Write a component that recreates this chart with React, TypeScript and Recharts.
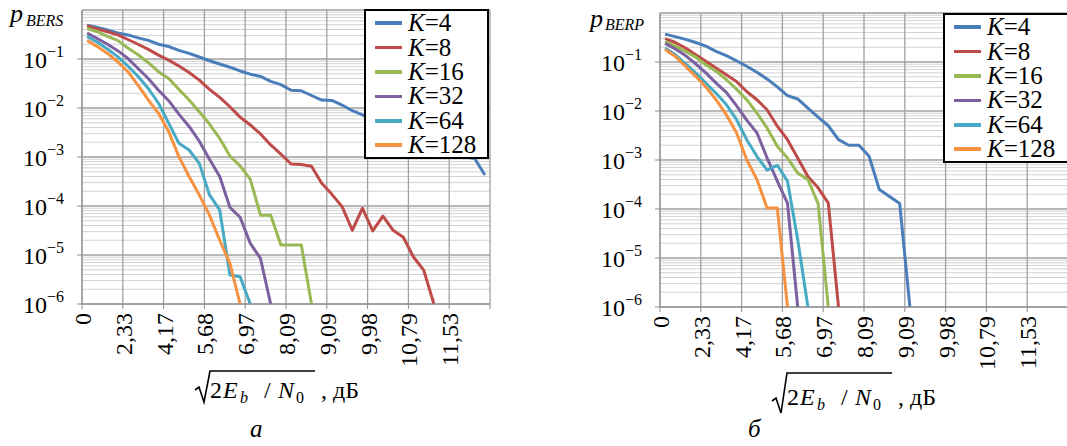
import React from 'react';
import { LineChart, Line, XAxis, YAxis, CartesianGrid, Legend } from 'recharts';

const FONT = "'Liberation Serif', Tinos, 'Times New Roman', Times, 'DejaVu Serif', serif";
const AXIS = '#8c8c8c';

// category labels, one per 4 points
const xTickLabels = ['0', '2,33', '4,17', '5,68', '6,97', '8,09', '9,09', '9,98', '10,79', '11,53'];
const kValues = [4, 8, 16, 32, 64, 128];
const colors = ['#4a7ebb', '#be4b48', '#98b954', '#7d60a0', '#46aac5', '#f69240'];

// panel a: p_BERS
const bersK4 = [4.9e-1, 4.4e-1, 3.9e-1, 3.4e-1, 3.1e-1, 2.7e-1, 2.4e-1, 2.0e-1, 1.8e-1, 1.5e-1, 1.3e-1, 1.1e-1, 9.2e-2, 7.9e-2, 6.8e-2, 5.7e-2, 4.9e-2, 4.4e-2, 3.5e-2, 3.0e-2, 2.3e-2, 2.25e-2, 1.8e-2, 1.45e-2, 1.43e-2, 1.15e-2, 8.8e-3, 7.2e-3, 6.0e-3, 4.7e-3, 3.9e-3, 3.0e-3, 2.6e-3, 2.1e-3, 1.7e-3, 1.45e-3, 1.17e-3, 1.0e-3, 9.3e-4, 4.3e-4];
const bersK8 = [4.7e-1, 4.1e-1, 3.6e-1, 3.1e-1, 2.5e-1, 2.0e-1, 1.57e-1, 1.2e-1, 9.5e-2, 7.2e-2, 5.3e-2, 3.7e-2, 2.4e-2, 1.65e-2, 1.06e-2, 6.5e-3, 4.5e-3, 2.95e-3, 1.76e-3, 1.15e-3, 7.2e-4, 7.0e-4, 6.5e-4, 2.9e-4, 1.73e-4, 9.7e-5, 3.2e-5, 9.0e-5, 3.1e-5, 6.2e-5, 3.2e-5, 2.3e-5, 9.1e-6, 4.9e-6, 1e-6];
const bersK16 = [4.2e-1, 3.6e-1, 2.9e-1, 2.4e-1, 1.68e-1, 1.22e-1, 8.4e-2, 5.5e-2, 4.0e-2, 2.4e-2, 1.46e-2, 8.4e-3, 4.7e-3, 2.4e-3, 1.05e-3, 6.6e-4, 3.5e-4, 6.5e-5, 6.5e-5, 1.6e-5, 1.6e-5, 1.6e-5, 1e-6];
const bersK32 = [3.4e-1, 2.6e-1, 2.0e-1, 1.48e-1, 1.03e-1, 6.4e-2, 4.0e-2, 2.3e-2, 1.41e-2, 7.5e-3, 4.2e-3, 2.1e-3, 9.0e-4, 4.0e-4, 9.4e-5, 5.9e-5, 1.73e-5, 8.5e-6, 1e-6];
const bersK64 = [2.9e-1, 2.2e-1, 1.6e-1, 1.12e-1, 7.2e-2, 4.4e-2, 2.5e-2, 1.25e-2, 4.9e-3, 1.9e-3, 1.39e-3, 7.4e-4, 1.68e-4, 8.3e-5, 3.9e-6, 3.6e-6, 1e-6];
const bersK128 = [2.4e-1, 1.79e-1, 1.3e-1, 8.8e-2, 5.5e-2, 2.9e-2, 1.46e-2, 7.8e-3, 3.3e-3, 1.02e-3, 4.0e-4, 1.68e-4, 6.5e-5, 2.0e-5, 6.8e-6, 1e-6];

// panel б: p_BERP
const berpK4 = [3.7e-1, 3.3e-1, 2.9e-1, 2.5e-1, 2.1e-1, 1.65e-1, 1.35e-1, 1.06e-1, 8.2e-2, 6.2e-2, 4.5e-2, 3.1e-2, 2.06e-2, 1.76e-2, 1.15e-2, 7.5e-3, 5.0e-3, 2.6e-3, 2.0e-3, 2.0e-3, 1.19e-3, 2.5e-4, 1.8e-4, 1.29e-4, 1e-6];
const berpK8 = [3.0e-1, 2.5e-1, 1.93e-1, 1.41e-1, 1.03e-1, 7.5e-2, 5.5e-2, 4.0e-2, 2.5e-2, 1.7e-2, 1.06e-2, 4.9e-3, 2.6e-3, 1.1e-3, 4.6e-4, 2.7e-4, 1.32e-4, 1e-6];
const berpK16 = [2.6e-1, 2.1e-1, 1.65e-1, 1.26e-1, 8.8e-2, 6.5e-2, 4.4e-2, 2.8e-2, 1.7e-2, 9.1e-3, 4.5e-3, 1.9e-3, 1.1e-3, 5.4e-4, 4.0e-4, 1.29e-4, 1e-6];
const berpK32 = [2.4e-1, 1.84e-1, 1.35e-1, 9.2e-2, 6.0e-2, 3.7e-2, 2.4e-2, 1.29e-2, 6.5e-3, 3.6e-3, 1.1e-3, 3.7e-4, 1.32e-4, 1e-6];
const berpK64 = [1.93e-1, 1.41e-1, 9.2e-2, 6.0e-2, 3.7e-2, 2.3e-2, 1.35e-2, 6.7e-3, 2.6e-3, 1.19e-3, 6.2e-4, 7.8e-4, 3.7e-4, 2.4e-5, 1e-6];
const berpK128 = [1.79e-1, 1.3e-1, 8.2e-2, 5.1e-2, 3.1e-2, 1.7e-2, 8.4e-3, 3.6e-3, 1.02e-3, 4.0e-4, 1.05e-4, 1.05e-4, 1e-6];

const POINTS = 40;

const buildTable = (series: number[][]) =>
  Array.from({ length: POINTS }, (_, i) => {
    const row: Record<string, number | null> = { i };
    series.forEach((s, k) => {
      row[`k${kValues[k]}`] = i < s.length ? s[i] : null;
    });
    return row;
  });

const bersData = buildTable([bersK4, bersK8, bersK16, bersK32, bersK64, bersK128]);
const berpData = buildTable([berpK4, berpK8, berpK16, berpK32, berpK64, berpK128]);

// gridlines sit on category boundaries, every 4 points
const xTicks = [...xTickLabels.map((_, k) => 4 * k - 0.5), POINTS - 0.5];
const yTicks = [1e-6, 1e-5, 1e-4, 1e-3, 1e-2, 1e-1];
const majorGrid = [...yTicks, 1];
const minorGrid: number[] = [];
yTicks.forEach((d) => {
  for (let m = 2; m <= 9; m++) minorGrid.push(m * d);
});

const XTick = ({ x, y, payload }: any) => {
  const label = xTickLabels[Math.round((payload.value + 0.5) / 4)];
  if (!label) return null;
  const bx = x + 9;
  const by = y + 2;
  return (
    <text x={bx} y={by} transform={`rotate(-90 ${bx} ${by})`} textAnchor="end" style={{ fontFamily: FONT }} fontSize={24} fill="#000">
      {label}
    </text>
  );
};

const YTick = ({ x, y, payload }: any) => {
  const exp = Math.round(Math.log10(payload.value));
  return (
    <text x={x - 11} y={y + 9} textAnchor="end" style={{ fontFamily: FONT }} fontSize={24} fill="#000">
      10
      <tspan dy={-11} fontSize={16}>
        {'\u2212' + String(-exp)}
      </tspan>
    </text>
  );
};

const makeLegend = (minWidth: number) => (props: any) => {
  const items = [...(props.payload || [])].sort(
    (a: any, b: any) => kValues.indexOf(Number(String(a.value).slice(2))) - kValues.indexOf(Number(String(b.value).slice(2)))
  );
  return (
    <div
      style={{
        display: 'inline-block',
        boxSizing: 'border-box',
        minWidth,
        border: '2px solid #000',
        background: '#fff',
        padding: '0 6px 0 9px',
        fontFamily: FONT,
        fontSize: 25,
        lineHeight: '24px',
        whiteSpace: 'nowrap',
      }}
    >
      {items.map((entry: any) => (
        <div key={entry.value} style={{ display: 'flex', alignItems: 'center', height: 24.4 }}>
          <span style={{ display: 'inline-block', width: 27, height: 3.5, background: entry.color, marginRight: 6 }} />
          <span>
            <i>K</i>={String(entry.value).slice(2)}
          </span>
        </div>
      ))}
    </div>
  );
};

interface PanelProps {
  data: Array<Record<string, number | null>>;
  width: number;
  height: number;
  top: number;
  right: number;
  yAxisWidth: number;
  legendLeft: number;
  legendTop: number;
  legendWidth: number;
}

const Panel = ({ data, width, height, top, right, yAxisWidth, legendLeft, legendTop, legendWidth }: PanelProps) => (
  <LineChart width={width} height={height} data={data} margin={{ top, right, bottom: 0, left: 0 }}>
    <CartesianGrid vertical={false} horizontalValues={minorGrid} stroke="#d2d2d2" strokeWidth={1} />
    <CartesianGrid horizontalValues={majorGrid} stroke="#a0a0a0" strokeWidth={1.3} />
    <XAxis
      type="number"
      dataKey="i"
      domain={[-0.5, POINTS - 0.5]}
      ticks={xTicks}
      interval={0}
      allowDataOverflow
      height={66}
      tickSize={5}
      axisLine={{ stroke: AXIS }}
      tickLine={{ stroke: AXIS }}
      tick={(p: any) => <XTick {...p} />}
    />
    <YAxis
      type="number"
      scale="log"
      domain={[1e-6, 1]}
      ticks={yTicks}
      interval={0}
      allowDataOverflow
      width={yAxisWidth}
      tickSize={5}
      axisLine={{ stroke: AXIS }}
      tickLine={{ stroke: AXIS }}
      tick={(p: any) => <YTick {...p} />}
    />
    {kValues.map((k, idx) => (
      <Line
        key={k}
        type="linear"
        dataKey={`k${k}`}
        name={`K=${k}`}
        stroke={colors[idx]}
        strokeWidth={3}
        strokeLinejoin="round"
        dot={false}
        connectNulls={false}
        isAnimationActive={false}
      />
    ))}
    <Legend
      layout="horizontal"
      align="center"
      verticalAlign="middle"
      content={makeLegend(legendWidth)}
      wrapperStyle={{ left: legendLeft, top: legendTop, width: 'auto', height: 'auto' }}
    />
  </LineChart>
);

const AxisTitle = ({ x, vin, base, bottom }: { x: number; vin: number; base: number; bottom: number }) => {
  const t = x + 15;
  return (
    <g style={{ fontFamily: FONT }} fontSize={24} fill="#000">
      <path
        d={`M${x} ${bottom - 12} L${x + 4} ${bottom - 15} L${x + 9} ${bottom} L${x + 15} ${vin} H${x + 120}`}
        stroke="#000"
        strokeWidth={1.6}
        fill="none"
        strokeLinejoin="miter"
      />
      <text x={t} y={base}>2</text>
      <text x={t + 13} y={base} fontStyle="italic">E</text>
      <text x={t + 30} y={base + 5} fontStyle="italic" fontSize={16}>b</text>
      <text x={t + 54} y={base}>/</text>
      <text x={t + 68} y={base} fontStyle="italic">N</text>
      <text x={t + 86} y={base + 5} fontSize={16}>0</text>
      <text x={t + 111} y={base}>,</text>
      <text x={t + 123} y={base}>дБ</text>
    </g>
  );
};

const App = () => (
  <div style={{ position: 'absolute', left: 0, top: 0, width: 1067, height: 446, overflow: 'hidden', background: '#fff', fontFamily: FONT }}>
    <div style={{ position: 'absolute', left: 0, top: 0 }}>
      <Panel data={bersData} width={500} height={370} top={10} right={10} yAxisWidth={82} legendLeft={364} legendTop={9} legendWidth={125} />
    </div>
    <div style={{ position: 'absolute', left: 560, top: 0 }}>
      <Panel data={berpData} width={520} height={373} top={13} right={12} yAxisWidth={100} legendLeft={383} legendTop={13} legendWidth={140} />
    </div>
    <svg width={1067} height={446} style={{ position: 'absolute', left: 0, top: 0, pointerEvents: 'none', fontFamily: FONT }}>
      <g fill="#000" fontStyle="italic">
        <text x={10} y={22} fontSize={26}>p</text>
        <text x={26} y={26} fontSize={16}>BERS</text>
        <text x={590} y={27} fontSize={26}>p</text>
        <text x={605} y={30} fontSize={16}>BERP</text>
      </g>
      <AxisTitle x={195} vin={371} base={398} bottom={402} />
      <AxisTitle x={772} vin={373} base={405} bottom={413} />
      <g fontSize={25} fontStyle="italic" fill="#000">
        <text x={250} y={437}>а</text>
        <text x={748} y={437}>б</text>
      </g>
    </svg>
  </div>
);

export default App;
